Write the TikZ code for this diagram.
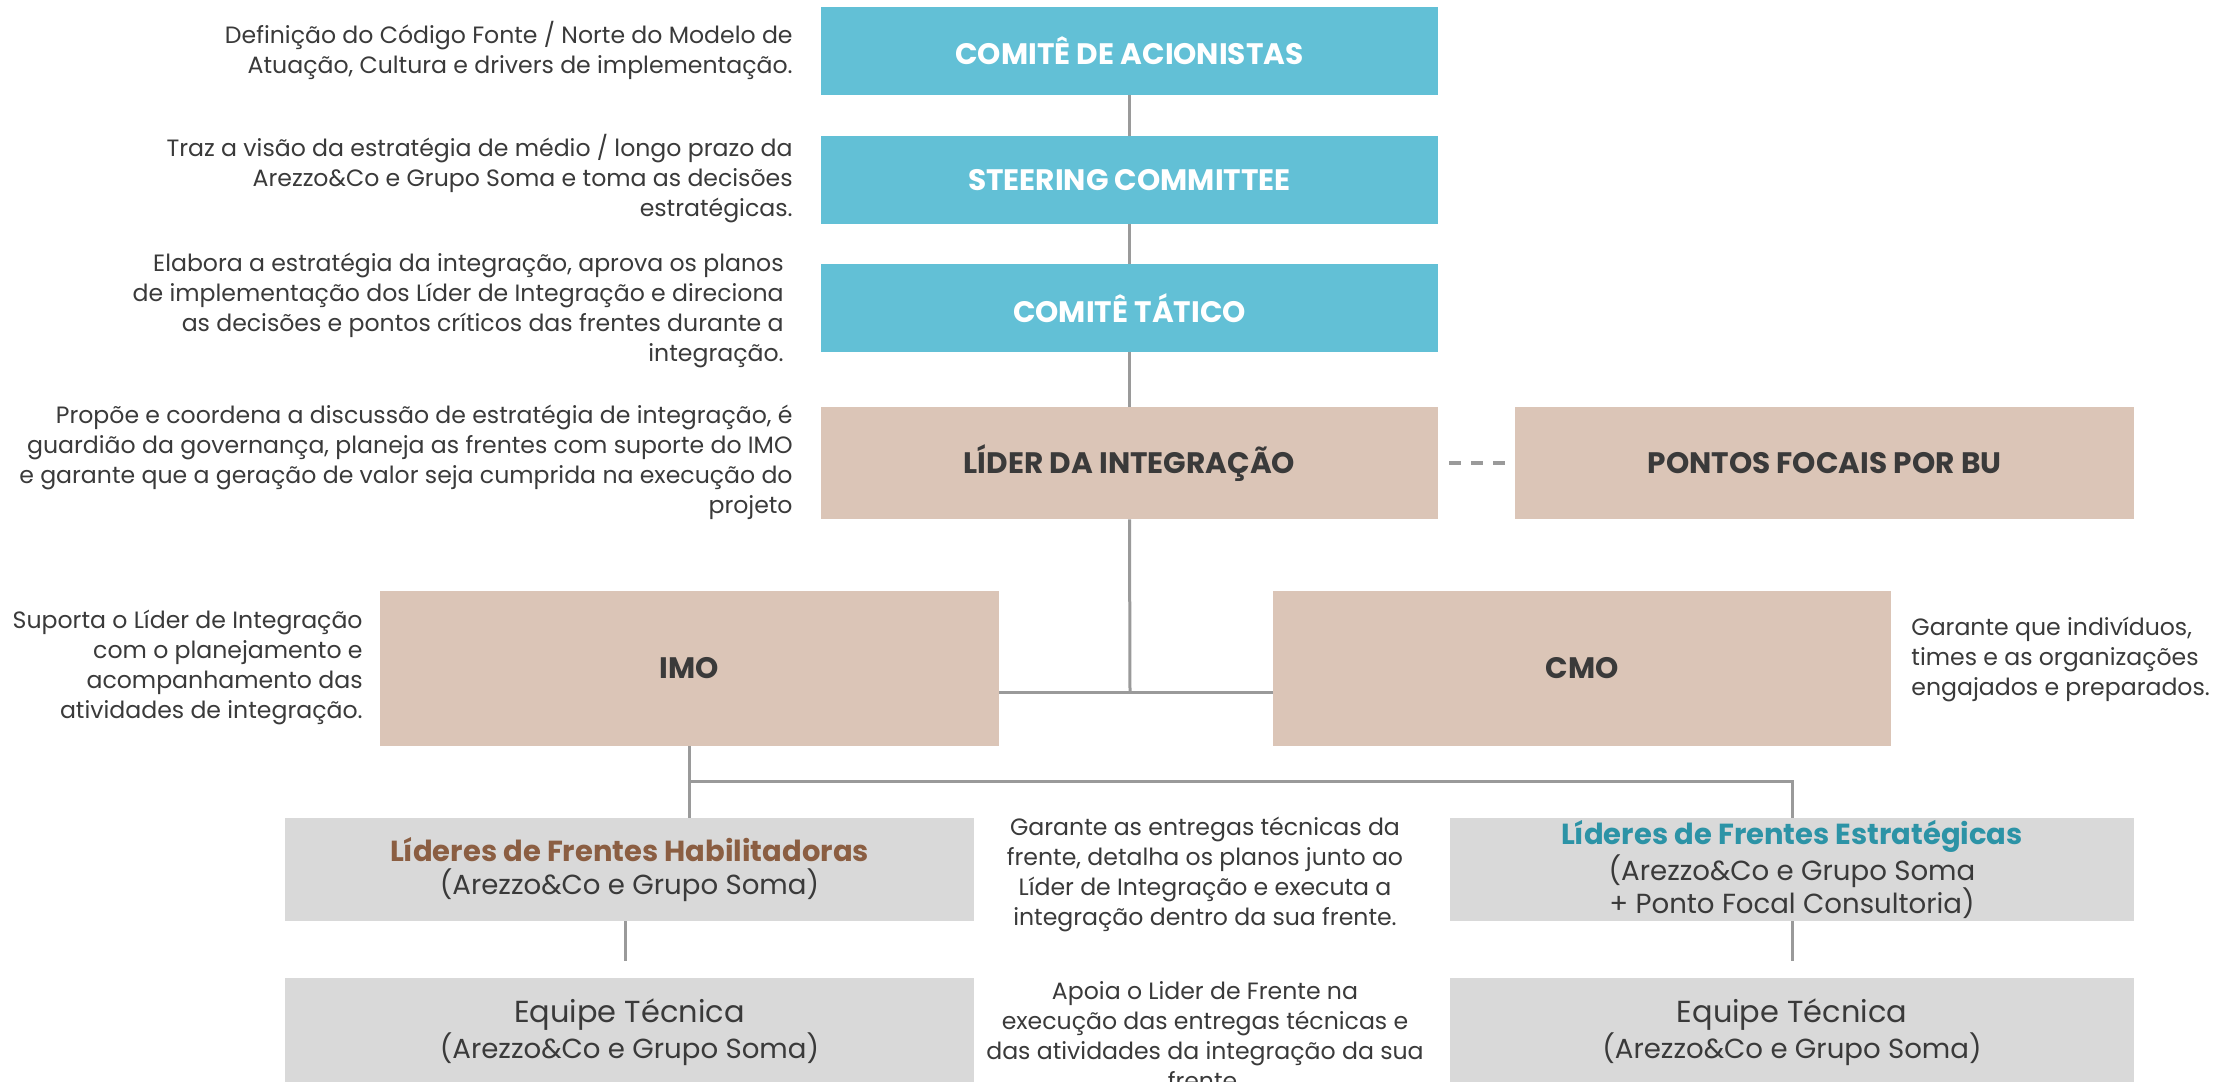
\documentclass[tikz,border=0pt]{standalone}
\usepackage{fontspec}
\setmainfont{Poppins}
\begin{document}
\begin{tikzpicture}[x=0.5pt,y=-0.5pt,
  box/.style={draw=none,inner sep=0pt,align=center},
  cyanbox/.style={box,fill=cyanC,text=white,font=\bfseries\fontsize{14.8}{17}\selectfont,minimum width=308.5pt,minimum height=44pt},
  beigebox/.style={box,fill=beigeC,text=darkT,font=\bfseries\fontsize{14.8}{17}\selectfont},
  graybox/.style={box,fill=grayC,text=darkT,font=\fontsize{13.8}{16.5}\selectfont},
  desc/.style={inner sep=0pt,text=darkT,font=\fontsize{11.8}{15}\selectfont},
  conn/.style={draw=lineC,line width=1.5pt},
]
\definecolor{cyanC}{HTML}{62C0D6}
\definecolor{beigeC}{HTML}{DBC5B7}
\definecolor{grayC}{HTML}{D9D9D9}
\definecolor{darkT}{HTML}{3A3A3A}
\definecolor{lineC}{HTML}{9A9A9A}
\definecolor{brownT}{HTML}{8B5E42}
\definecolor{tealT}{HTML}{2C93A6}
\useasboundingbox (0,0) rectangle (2223,1082);
\fill[white] (0,0) rectangle (2223,1082);

% boxes
\node[cyanbox] (ca) at (1129.5,51) {COMITÊ DE ACIONISTAS};
\node[cyanbox] (sc) at (1129.5,180) {STEERING COMMITTEE};
\node[cyanbox] (ct) at (1129.5,308) {COMITÊ TÁTICO};
\node[beigebox,minimum width=308.5pt,minimum height=56pt] (li) at (1129.5,463) {LÍDER DA INTEGRAÇÃO};
\node[beigebox,minimum width=309.5pt,minimum height=56pt] (pf) at (1824.5,463) {PONTOS FOCAIS POR BU};
\node[beigebox,minimum width=309.5pt,minimum height=77.5pt] (imo) at (689.5,668.5) {IMO};
\node[beigebox,minimum width=309pt,minimum height=77.5pt] (cmo) at (1582,668.5) {CMO};
\node[graybox,minimum width=344.5pt,minimum height=51.5pt] (lh) at (629.5,869.5)
  {{\bfseries\fontsize{14.5}{17}\selectfont\color{brownT}Líderes de Frentes Habilitadoras}\\(Arezzo\&Co e Grupo Soma)};
\node[graybox,minimum width=342pt,minimum height=51.5pt] (le) at (1792,869.5)
  {{\bfseries\fontsize{14.5}{17}\selectfont\color{tealT}Líderes de Frentes Estratégicas}\\(Arezzo\&Co e Grupo Soma\\+ Ponto Focal Consultoria)};
\node[graybox,minimum width=344.5pt,minimum height=54pt] (eh) at (629.5,1032)
  {{\fontsize{15.2}{18}\selectfont Equipe Técnica}\\(Arezzo\&Co e Grupo Soma)};
\node[graybox,minimum width=342pt,minimum height=54pt] (ee) at (1792,1032)
  {{\fontsize{15.2}{18}\selectfont Equipe Técnica}\\(Arezzo\&Co e Grupo Soma)};

% connectors
\coordinate (j) at (1130,692);
\coordinate (k) at (689,781);
\coordinate (lhend) at (625,961);
\coordinate (leend) at (1792,961);
\draw[conn] (ca.south) -- (sc.north);
\draw[conn] (sc.south) -- (ct.north);
\draw[conn] (ct.south) -- (li.north);
\draw[conn] (li.south) -- (j);
\draw[conn] (imo.east |- j) -- (cmo.west |- j);
\draw[conn] (imo.south) -- (imo.south |- lh.north);
\draw[conn] (k) -- (k -| le.north) -- (le.north);
\draw[conn] (lh.south -| lhend) -- (lhend);
\draw[conn] (le.south) -- (leend);
\draw[conn,line width=1.8pt,dash pattern=on 6pt off 5pt] ([xshift=5.5pt]li.east) -- (pf.west);

% descriptions
\node[desc,align=right,anchor=east] (d1) at (793,50)
  {Definição do Código Fonte / Norte do Modelo de\\Atuação, Cultura e drivers de implementação.};
\node[desc,align=right,anchor=east] (d2) at (793,179)
  {Traz a visão da estratégia de médio / longo prazo da\\Arezzo\&Co e Grupo Soma e toma as decisões\\estratégicas.};
\node[desc,align=right,anchor=east] (d3) at (784,310)
  {Elabora a estratégia da integração, aprova os planos\\de implementação dos Líder de Integração e direciona\\as decisões e pontos críticos das frentes durante a\\integração.};
\node[desc,align=right,anchor=east] (d4) at (793,462)
  {Propõe e coordena a discussão de estratégia de integração, é\\guardião da governança, planeja as frentes com suporte do IMO\\e garante que a geração de valor seja cumprida na execução do\\projeto};
\node[desc,align=right,anchor=east] (d5) at (363,667)
  {Suporta o Líder de Integração\\com o planejamento e\\acompanhamento das\\atividades de integração.};
\node[desc,align=left,anchor=west] (d6) at (1911,659)
  {Garante que indivíduos,\\times e as organizações\\engajados e preparados.};
\node[desc,align=center] (d7) at (1205,874)
  {Garante as entregas técnicas da\\frente, detalha os planos junto ao\\Líder de Integração e executa a\\integração dentro da sua frente.};
\node[desc,align=center] (d8) at (1205,1036)
  {Apoia o Lider de Frente na\\execução das entregas técnicas e\\das atividades da integração da sua\\frente.};
\end{tikzpicture}
\end{document}
